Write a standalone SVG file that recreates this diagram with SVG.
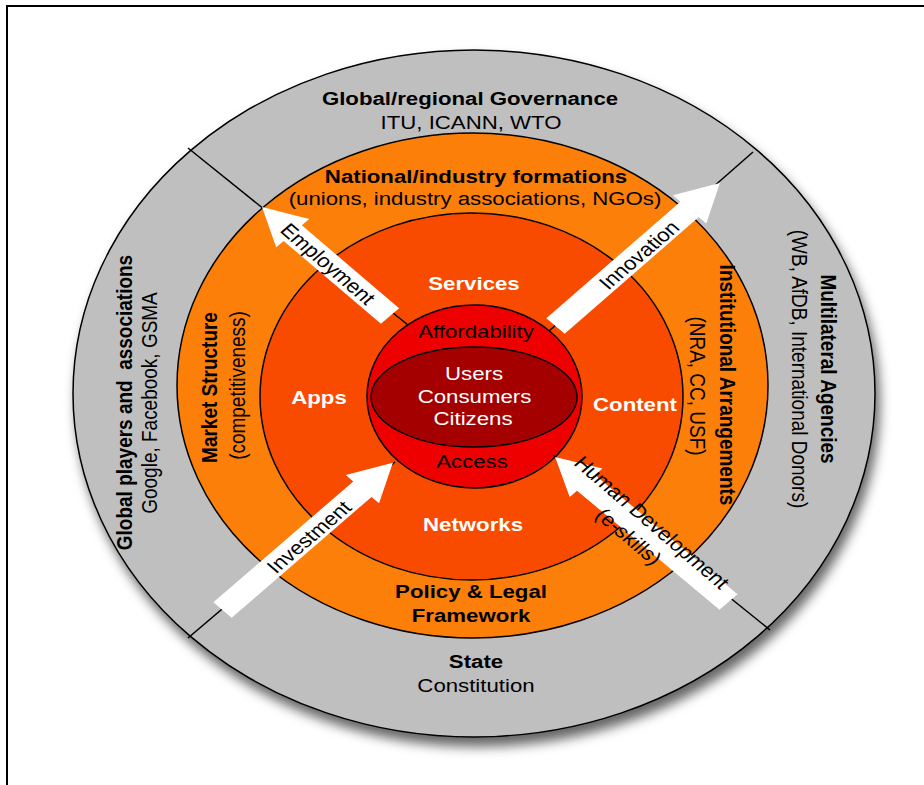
<svg xmlns="http://www.w3.org/2000/svg" width="924" height="785" viewBox="0 0 924 785">
<style>
text{font-family:"Liberation Sans",Arial,sans-serif;font-size:19px;text-anchor:middle;fill:#000}
.b{font-weight:bold}
.w{fill:#fff}
.ring{stroke:#000;stroke-width:1.5}
.div{stroke:#000;stroke-width:1.5;fill:none}
.arrow{fill:#fff}
</style>
<defs>
<filter id="sh" x="-10%" y="-10%" width="125%" height="125%">
<feDropShadow dx="4" dy="9" stdDeviation="6" flood-color="#000" flood-opacity="0.6"/>
</filter>
<polygon id="arr" points="0,-11 -37,-11 -37,-20 0,0 -37,20 -37,11 0,11"/>
</defs>
<rect width="924" height="785" fill="#fff"/>
<g id="frame"><path d="M7,785 V6 H924" fill="none" stroke="#000" stroke-width="2"/></g>

<g id="outer-ring"><ellipse class="ring" cx="474" cy="393.5" rx="401" ry="343.5" fill="#bfbfbf" filter="url(#sh)"/></g>
<g id="middle-ring"><ellipse class="ring" cx="472.5" cy="385.5" rx="295.5" ry="252.5" fill="#fc7f0a"/></g>
<g id="inner-ring"><ellipse class="ring" cx="471.5" cy="396.5" rx="211.5" ry="183.5" fill="#f94b00"/></g>
<g id="access-circle"><ellipse class="ring" cx="474.5" cy="396.5" rx="107.5" ry="91.5" fill="#ee0000"/></g>
<g id="users"><ellipse class="ring" cx="474" cy="397" rx="103" ry="50" fill="#a50000"/>
<text class="w" transform="translate(474,380) scale(1.17,1)">Users</text>
<text class="w" transform="translate(474.5,403) scale(1.17,1)">Consumers</text>
<text class="w" transform="translate(473,425) scale(1.17,1)">Citizens</text>
</g>

<g id="connectors">
<path class="div" d="M188,148 L408,325"/>
<path class="div" d="M753,152 L549,331"/>
<path class="div" d="M188,638 L395,462"/>
<path class="div" d="M770,630 L553,455"/>
<g id="arrow-employment"><g transform="translate(390,316) scale(1.17,1) rotate(-135.1)"><polygon class="arrow" points="0,-11 117.4,-11 117.4,-20 154.4,0 117.4,20 117.4,11 0,11"/></g>
<text transform="translate(328,264) scale(1.17,1) rotate(45)" y="6.6">Employment</text></g>
<g id="arrow-innovation"><g transform="translate(555.5,326) scale(1.17,1) rotate(-45.5)"><polygon class="arrow" points="0,-11 163.5,-11 163.5,-20 200.5,0 163.5,20 163.5,11 0,11"/></g>
<text transform="translate(639,255) scale(1.17,1) rotate(-45)" y="6.6">Innovation</text></g>
<g id="arrow-investment"><g transform="translate(222.5,610) scale(1.17,1) rotate(-45.3)"><polygon class="arrow" points="0,-11 170,-11 170,-20 207,0 170,20 170,11 0,11"/></g>
<text transform="translate(309,537) scale(1.17,1) rotate(-45)" y="6.6">Investment</text></g>
<g id="arrow-human"><g transform="translate(728.5,602) scale(1.17,1) rotate(-135.6)"><polygon class="arrow" points="0,-11 170.4,-11 170.4,-20 207.4,0 170.4,20 170.4,11 0,11"/></g>
<text transform="translate(642,531) scale(1.17,1) rotate(45)"><tspan x="0" y="-5.4">Human Development</tspan><tspan x="-4" y="18.6">(e-skills)</tspan></text></g>
</g>

<g id="global-governance">
<text class="b" transform="translate(470,105) scale(1.17,1)">Global/regional Governance</text>
<text transform="translate(471,129) scale(1.17,1)">ITU, ICANN, WTO</text>
</g>
<g id="national-formations">
<text class="b" transform="translate(476,183) scale(1.17,1)">National/industry formations</text>
<text transform="translate(475,205) scale(1.17,1)">(unions, industry associations, NGOs)</text>
</g>
<g id="global-players">
<text class="b" xml:space="preserve" transform="translate(132,402.5) scale(1.17,1) rotate(-90)">Global players and  associations</text>
<text transform="translate(157,403) scale(1.17,1) rotate(-90)">Google, Facebook, GSMA</text>
</g>
<g id="market-structure">
<text class="b" transform="translate(217,387.5) scale(1.17,1) rotate(-90)">Market Structure</text>
<text transform="translate(245,385.5) scale(1.17,1) rotate(-90)">(competitiveness)</text>
</g>
<g id="multilateral">
<text class="b" transform="translate(821,369) scale(1.17,1) rotate(90)">Multilateral Agencies</text>
<text transform="translate(792,369) scale(1.17,1) rotate(90)">(WB, AfDB, International Donors)</text>
</g>
<g id="institutional">
<text class="b" transform="translate(720,385) scale(1.17,1) rotate(90)">Institutional Arrangements</text>
<text transform="translate(690,386) scale(1.17,1) rotate(90)">(NRA, CC, USF)</text>
</g>
<g id="services"><text class="b w" transform="translate(474,290) scale(1.17,1)">Services</text></g>
<g id="apps"><text class="b w" transform="translate(319,404) scale(1.17,1)">Apps</text></g>
<g id="content"><text class="b w" transform="translate(635,411) scale(1.17,1)">Content</text></g>
<g id="networks"><text class="b w" transform="translate(473,531) scale(1.17,1)">Networks</text></g>
<g id="affordability"><text transform="translate(476,338) scale(1.17,1)">Affordability</text></g>
<g id="access"><text transform="translate(472,468) scale(1.17,1)">Access</text></g>
<g id="policy">
<text class="b" transform="translate(471,598) scale(1.17,1)">Policy &amp; Legal</text>
<text class="b" transform="translate(471,622) scale(1.17,1)">Framework</text>
</g>
<g id="state">
<text class="b" transform="translate(476,668) scale(1.17,1)">State</text>
<text transform="translate(476,692) scale(1.17,1)">Constitution</text>
</g>
</svg>
